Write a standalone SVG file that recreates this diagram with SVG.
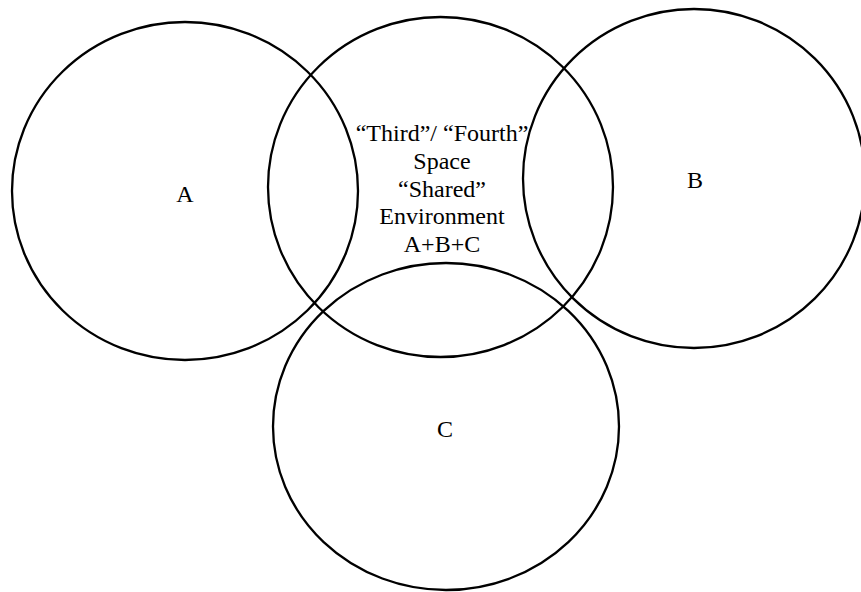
<svg xmlns="http://www.w3.org/2000/svg" width="861" height="592" viewBox="0 0 861 592">
<style>
.c{fill:none;stroke:#000;stroke-width:2.3}
.t{text-anchor:middle;fill:#000}
</style>
<rect width="861" height="592" fill="#fff"/>
<g font-family="Liberation Serif, Times New Roman, serif" font-size="24">
<g id="nodeA"><ellipse class="c" cx="185" cy="191" rx="173" ry="169"/><text class="t" x="185" y="202">A</text></g>
<g id="nodeShared"><ellipse class="c" cx="440.5" cy="187" rx="172.5" ry="170"/>
<text class="t" x="442" y="141">“Third”/ “Fourth”</text>
<text class="t" x="442" y="169">Space</text>
<text class="t" x="442" y="197">“Shared”</text>
<text class="t" x="442" y="224">Environment</text>
<text class="t" x="442" y="252">A+B+C</text></g>
<g id="nodeB"><ellipse class="c" cx="694" cy="178.5" rx="171" ry="169.5"/><text class="t" x="695" y="188">B</text></g>
<g id="nodeC"><ellipse class="c" cx="446" cy="426.5" rx="173" ry="163.5"/><text class="t" x="445" y="437">C</text></g>
</g>
<g id="connectors"></g>
</svg>
